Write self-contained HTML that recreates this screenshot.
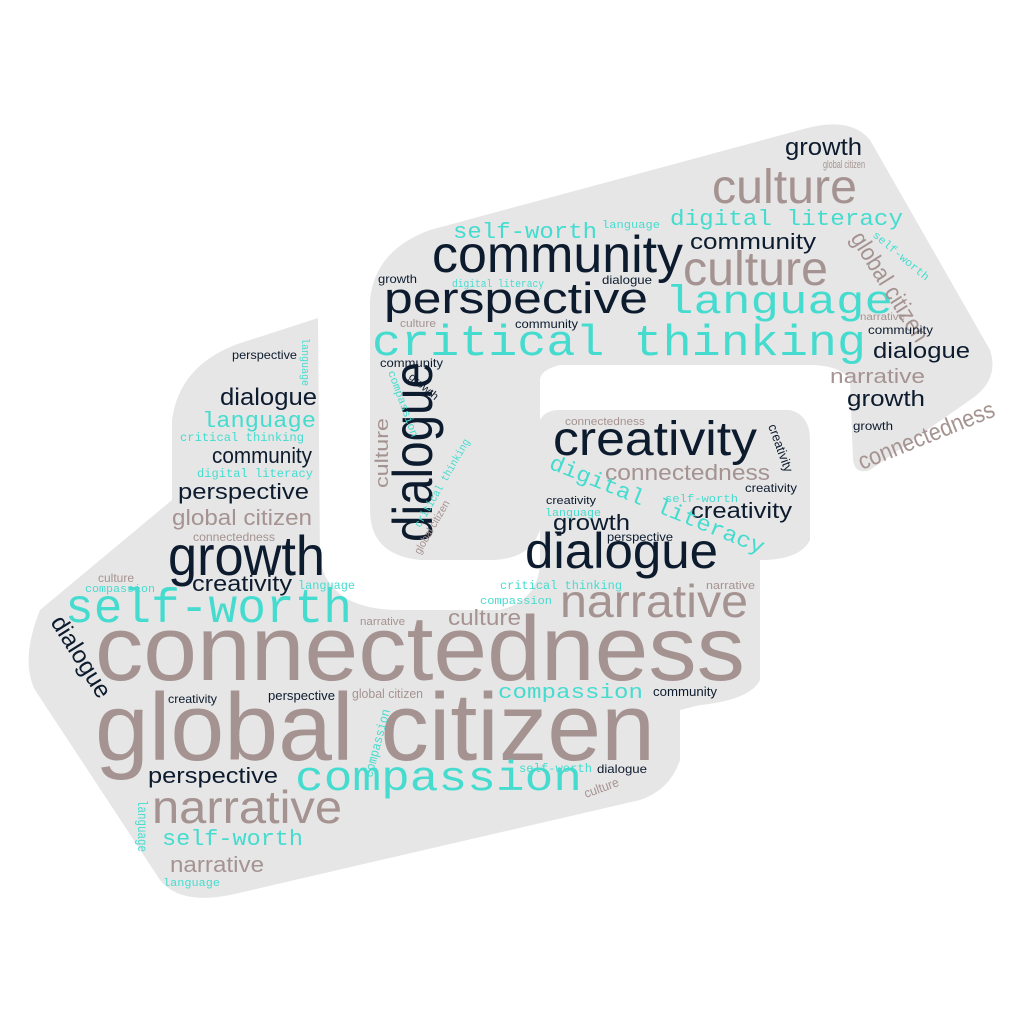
<!DOCTYPE html>
<html><head><meta charset="utf-8"><style>
html,body{margin:0;padding:0;background:#fff;}
svg{display:block}
text{font-family:"Liberation Sans",sans-serif}
.n{fill:#0d1b2e}.t{fill:#a59391}.m{fill:#45dccf;font-family:"Liberation Mono",monospace}
</style></head><body>
<svg width="1024" height="1024" viewBox="0 0 1024 1024">
<g fill="#e6e6e6">
<path d="M40,610 L172,500 L172,420 Q180,360 250,340 L318,318 L320,560 Q330,610 400,610 L500,610 Q540,600 540,560 L540,420 Q545,410 560,410 L790,410 Q810,415 810,440 L810,540 Q800,560 760,560 L760,680 Q750,700 700,705 L680,710 L680,760 Q670,790 640,800 L230,895 Q180,905 160,880 L35,690 Q20,660 40,610 Z"/>
<path d="M370,300 Q375,250 430,230 L800,130 Q850,115 870,140 L990,350 Q1000,380 970,400 L870,470 Q855,475 853,460 L850,380 Q840,365 810,365 L560,365 Q540,370 540,380 L540,530 Q530,560 490,560 L420,560 Q370,555 370,510 Z"/>
</g>
<g lengthAdjust="spacingAndGlyphs">
<text class="t" x="95" y="680" font-size="92" textLength="650" lengthAdjust="spacingAndGlyphs">connectedness</text>
<text class="t" x="95" y="760" font-size="96" textLength="560" lengthAdjust="spacingAndGlyphs">global citizen</text>
<text class="m" x="65" y="622" font-size="48" textLength="287" lengthAdjust="spacingAndGlyphs">self-worth</text>
<text class="n" x="168" y="575" font-size="56" textLength="157" lengthAdjust="spacingAndGlyphs">growth</text>
<text class="t" x="560" y="617" font-size="46" textLength="188" lengthAdjust="spacingAndGlyphs">narrative</text>
<text class="n" x="525" y="568" font-size="50" textLength="193" lengthAdjust="spacingAndGlyphs">dialogue</text>
<text class="n" x="553" y="455" font-size="48" textLength="204" lengthAdjust="spacingAndGlyphs">creativity</text>
<text class="m" x="295" y="790" font-size="42" textLength="287" lengthAdjust="spacingAndGlyphs">compassion</text>
<text class="t" x="152" y="823" font-size="46" textLength="190" lengthAdjust="spacingAndGlyphs">narrative</text>
<text class="n" x="432" y="272" font-size="52" textLength="251" lengthAdjust="spacingAndGlyphs">community</text>
<text class="n" x="384" y="313" font-size="44" textLength="264" lengthAdjust="spacingAndGlyphs">perspective</text>
<text class="m" x="372" y="355" font-size="44" textLength="494" lengthAdjust="spacingAndGlyphs">critical thinking</text>
<text class="m" x="665" y="313" font-size="40" textLength="228" lengthAdjust="spacingAndGlyphs">language</text>
<text class="t" x="683" y="285" font-size="48" textLength="145" lengthAdjust="spacingAndGlyphs">culture</text>
<text class="t" x="712" y="203" font-size="48" textLength="145" lengthAdjust="spacingAndGlyphs">culture</text>
<text class="n" transform="rotate(-90 432 542)" x="432" y="542" font-size="56" textLength="180" lengthAdjust="spacingAndGlyphs">dialogue</text>
<text class="m" x="670" y="225" font-size="22" textLength="233" lengthAdjust="spacingAndGlyphs">digital literacy</text>
<text class="n" x="785" y="155" font-size="24" textLength="77" lengthAdjust="spacingAndGlyphs">growth</text>
<text class="t" transform="rotate(58 850 238)" x="850" y="238" font-size="24" textLength="125" lengthAdjust="spacingAndGlyphs">global citizen</text>
<text class="t" transform="rotate(-22 862 470)" x="862" y="470" font-size="24" textLength="145" lengthAdjust="spacingAndGlyphs">connectedness</text>
<text class="m" x="453" y="238" font-size="22" textLength="144" lengthAdjust="spacingAndGlyphs">self-worth</text>
<text class="n" x="690" y="249" font-size="22" textLength="126" lengthAdjust="spacingAndGlyphs">community</text>
<text class="n" x="873" y="358" font-size="22" textLength="97" lengthAdjust="spacingAndGlyphs">dialogue</text>
<text class="t" x="830" y="383" font-size="20" textLength="95" lengthAdjust="spacingAndGlyphs">narrative</text>
<text class="n" x="847" y="406" font-size="22" textLength="78" lengthAdjust="spacingAndGlyphs">growth</text>
<text class="n" x="868" y="334" font-size="12" textLength="65" lengthAdjust="spacingAndGlyphs">community</text>
<text class="n" x="220" y="405" font-size="24" textLength="97" lengthAdjust="spacingAndGlyphs">dialogue</text>
<text class="m" x="202" y="427" font-size="22" textLength="114" lengthAdjust="spacingAndGlyphs">language</text>
<text class="m" x="180" y="441" font-size="12" textLength="124" lengthAdjust="spacingAndGlyphs">critical thinking</text>
<text class="n" x="212" y="463" font-size="22" textLength="100" lengthAdjust="spacingAndGlyphs">community</text>
<text class="m" x="197" y="477" font-size="12" textLength="116" lengthAdjust="spacingAndGlyphs">digital literacy</text>
<text class="n" x="178" y="499" font-size="22" textLength="131" lengthAdjust="spacingAndGlyphs">perspective</text>
<text class="t" x="172" y="525" font-size="22" textLength="140" lengthAdjust="spacingAndGlyphs">global citizen</text>
<text class="t" x="193" y="541" font-size="12" textLength="82" lengthAdjust="spacingAndGlyphs">connectedness</text>
<text class="n" x="192" y="591" font-size="22" textLength="100" lengthAdjust="spacingAndGlyphs">creativity</text>
<text class="m" x="298" y="589" font-size="12" textLength="57" lengthAdjust="spacingAndGlyphs">language</text>
<text class="t" x="448" y="625" font-size="22" textLength="73" lengthAdjust="spacingAndGlyphs">culture</text>
<text class="t" x="605" y="480" font-size="22" textLength="165" lengthAdjust="spacingAndGlyphs">connectedness</text>
<text class="n" x="691" y="518" font-size="22" textLength="101" lengthAdjust="spacingAndGlyphs">creativity</text>
<text class="n" x="553" y="530" font-size="22" textLength="77" lengthAdjust="spacingAndGlyphs">growth</text>
<text class="m" transform="rotate(22 548 468)" x="548" y="468" font-size="22" textLength="230" lengthAdjust="spacingAndGlyphs">digital literacy</text>
<text class="m" x="498" y="698" font-size="20" textLength="145" lengthAdjust="spacingAndGlyphs">compassion</text>
<text class="n" x="148" y="783" font-size="22" textLength="130" lengthAdjust="spacingAndGlyphs">perspective</text>
<text class="m" x="162" y="845" font-size="22" textLength="141" lengthAdjust="spacingAndGlyphs">self-worth</text>
<text class="t" x="170" y="872" font-size="22" textLength="94" lengthAdjust="spacingAndGlyphs">narrative</text>
<text class="m" x="163" y="886" font-size="11" textLength="57" lengthAdjust="spacingAndGlyphs">language</text>
<text class="m" transform="rotate(90 138 800)" x="138" y="800" font-size="14" textLength="52" lengthAdjust="spacingAndGlyphs">language</text>
<text class="n" transform="rotate(58 50 622)" x="50" y="622" font-size="24" textLength="92" lengthAdjust="spacingAndGlyphs">dialogue</text>
<text class="t" x="98" y="582" font-size="12" textLength="36" lengthAdjust="spacingAndGlyphs">culture</text>
<text class="m" x="85" y="592" font-size="11" textLength="70" lengthAdjust="spacingAndGlyphs">compassion</text>
<text class="n" x="168" y="703" font-size="12" textLength="49" lengthAdjust="spacingAndGlyphs">creativity</text>
<text class="n" x="268" y="700" font-size="13" textLength="67" lengthAdjust="spacingAndGlyphs">perspective</text>
<text class="t" x="352" y="698" font-size="13" textLength="71" lengthAdjust="spacingAndGlyphs">global citizen</text>
<text class="n" x="653" y="696" font-size="13" textLength="64" lengthAdjust="spacingAndGlyphs">community</text>
<text class="n" x="597" y="773" font-size="12" textLength="50" lengthAdjust="spacingAndGlyphs">dialogue</text>
<text class="m" x="519" y="772" font-size="12" textLength="73" lengthAdjust="spacingAndGlyphs">self-worth</text>
<text class="t" transform="rotate(-20 586 798)" x="586" y="798" font-size="13" textLength="36" lengthAdjust="spacingAndGlyphs">culture</text>
<text class="n" x="232" y="359" font-size="12" textLength="65" lengthAdjust="spacingAndGlyphs">perspective</text>
<text class="m" transform="rotate(90 302 338)" x="302" y="338" font-size="11" textLength="48" lengthAdjust="spacingAndGlyphs">language</text>
<text class="m" transform="rotate(-75 372 778)" x="372" y="778" font-size="13" textLength="70" lengthAdjust="spacingAndGlyphs">compassion</text>
<text class="m" x="500" y="589" font-size="12" textLength="122" lengthAdjust="spacingAndGlyphs">critical thinking</text>
<text class="m" x="480" y="604" font-size="11" textLength="72" lengthAdjust="spacingAndGlyphs">compassion</text>
<text class="t" x="706" y="589" font-size="11" textLength="49" lengthAdjust="spacingAndGlyphs">narrative</text>
<text class="n" x="378" y="283" font-size="12" textLength="39" lengthAdjust="spacingAndGlyphs">growth</text>
<text class="m" x="602" y="228" font-size="11" textLength="58" lengthAdjust="spacingAndGlyphs">language</text>
<text class="m" x="452" y="287" font-size="11" textLength="92" lengthAdjust="spacingAndGlyphs">digital literacy</text>
<text class="n" x="602" y="284" font-size="12" textLength="50" lengthAdjust="spacingAndGlyphs">dialogue</text>
<text class="n" x="515" y="328" font-size="12" textLength="63" lengthAdjust="spacingAndGlyphs">community</text>
<text class="t" x="400" y="327" font-size="11" textLength="36" lengthAdjust="spacingAndGlyphs">culture</text>
<text class="n" x="380" y="367" font-size="12" textLength="63" lengthAdjust="spacingAndGlyphs">community</text>
<text class="t" transform="rotate(-90 388 488)" x="388" y="488" font-size="18" textLength="70" lengthAdjust="spacingAndGlyphs">culture</text>
<text class="n" transform="rotate(70 768 426)" x="768" y="426" font-size="13" textLength="50" lengthAdjust="spacingAndGlyphs">creativity</text>
<text class="t" x="360" y="625" font-size="11" textLength="45" lengthAdjust="spacingAndGlyphs">narrative</text>
<text class="n" x="607" y="541" font-size="12" textLength="66" lengthAdjust="spacingAndGlyphs">perspective</text>
<text class="m" x="665" y="502" font-size="11" textLength="73" lengthAdjust="spacingAndGlyphs">self-worth</text>
<text class="m" x="545" y="516" font-size="11" textLength="56" lengthAdjust="spacingAndGlyphs">language</text>
<text class="n" x="546" y="504" font-size="11" textLength="50" lengthAdjust="spacingAndGlyphs">creativity</text>
<text class="t" x="565" y="425" font-size="11" textLength="80" lengthAdjust="spacingAndGlyphs">connectedness</text>
<text class="n" x="745" y="492" font-size="12" textLength="52" lengthAdjust="spacingAndGlyphs">creativity</text>
<text class="t" x="860" y="320" font-size="10" textLength="45" lengthAdjust="spacingAndGlyphs">narrative</text>
<text class="n" x="853" y="430" font-size="12" textLength="40" lengthAdjust="spacingAndGlyphs">growth</text>
<text class="t" x="823" y="168" font-size="11" textLength="42" lengthAdjust="spacingAndGlyphs">global citizen</text>
<text class="m" transform="rotate(40 872 236)" x="872" y="236" font-size="11" textLength="70" lengthAdjust="spacingAndGlyphs">self-worth</text>
<text class="m" transform="rotate(-60 420 528)" x="420" y="528" font-size="11" textLength="100" lengthAdjust="spacingAndGlyphs">critical thinking</text>
<text class="t" transform="rotate(-60 420 555)" x="420" y="555" font-size="11" textLength="60" lengthAdjust="spacingAndGlyphs">global citizen</text>
<text class="m" transform="rotate(70 388 372)" x="388" y="372" font-size="11" textLength="70" lengthAdjust="spacingAndGlyphs">compassion</text>
<text class="n" transform="rotate(40 408 378)" x="408" y="378" font-size="11" textLength="35" lengthAdjust="spacingAndGlyphs">growth</text>
</g>
</svg>
</body></html>
